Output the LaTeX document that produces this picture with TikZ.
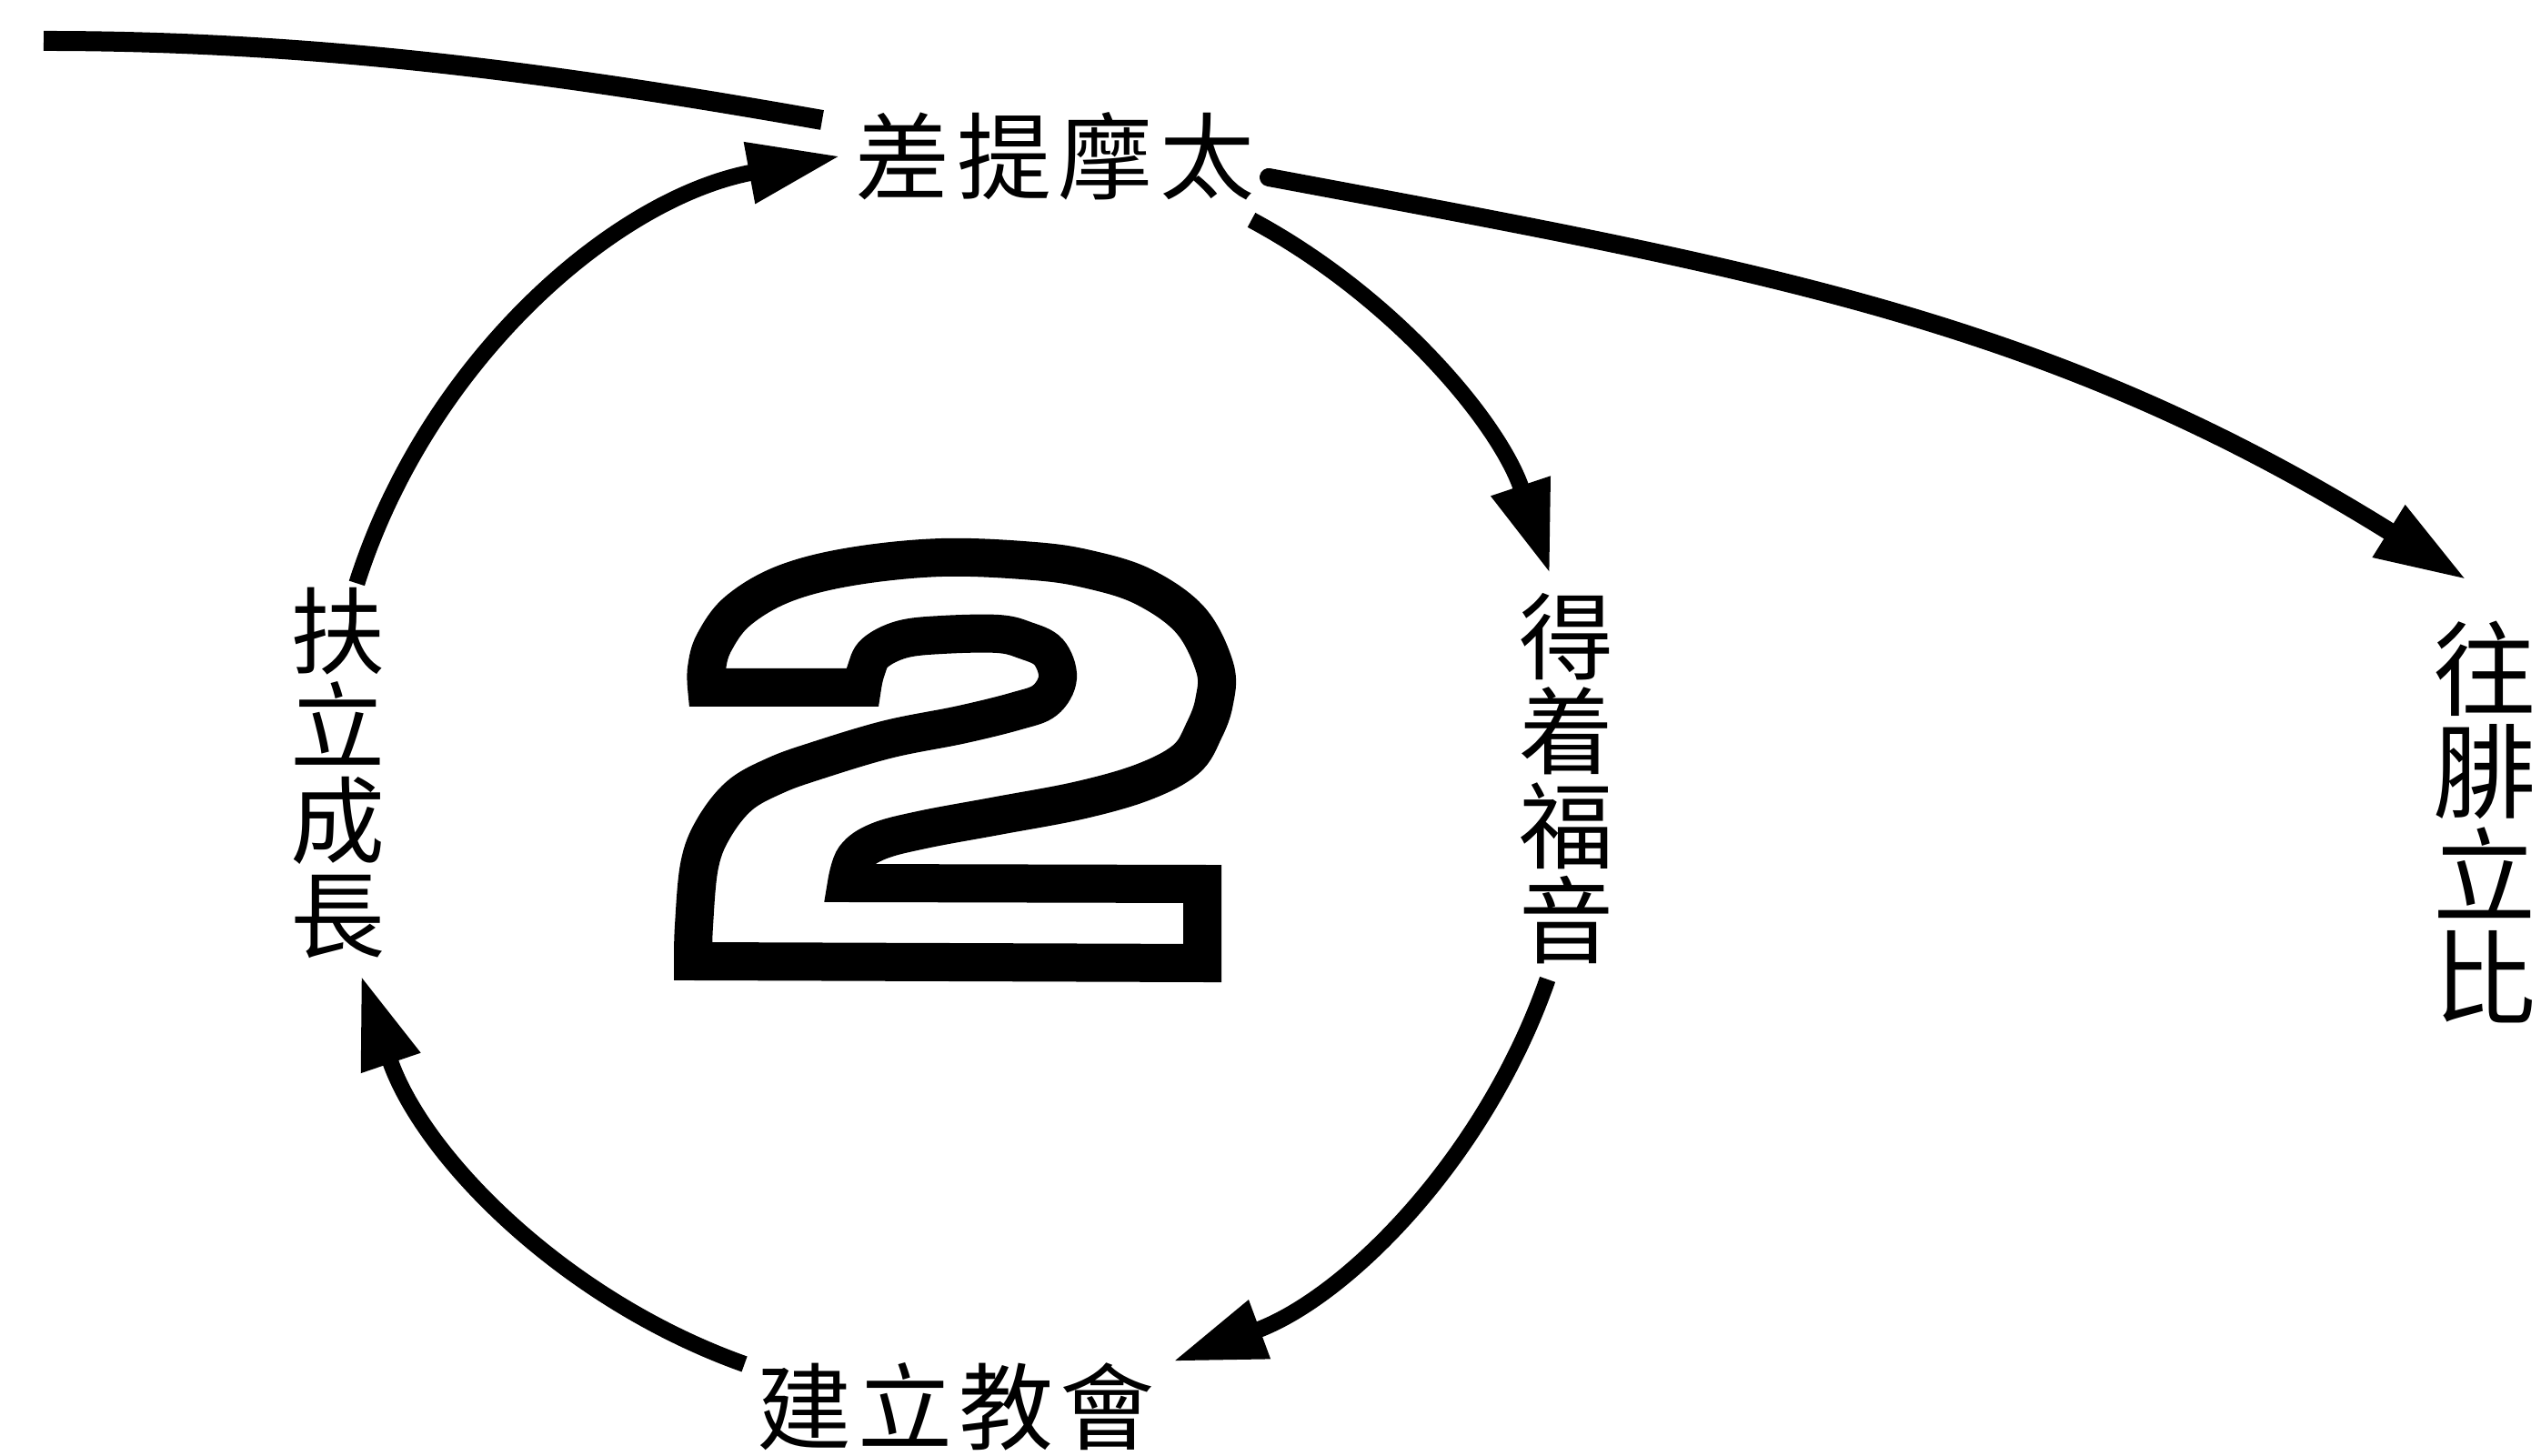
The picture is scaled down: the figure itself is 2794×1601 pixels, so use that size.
\documentclass[tikz,border=0pt]{standalone}
\usepackage{fontspec}
\newfontfamily\cjk{Noto Sans CJK TC}
\usetikzlibrary{arrows.meta}
\begin{document}
\begin{tikzpicture}[x=0.05mm,y=-0.05mm,
  lbl/.style={inner sep=0pt, font=\cjk\fontsize{14.8pt}{14.8pt}\selectfont},
  vlbl/.style={lbl, align=center},
  biglbl/.style={inner sep=0pt, align=center, font=\cjk\fontsize{16.1pt}{16.1pt}\selectfont},
  cyc/.style={line width=0.9mm, -{Triangle[length=5.1mm,width=3.2mm]}},
  journey/.style={line width=1mm, line cap=round, -{Triangle[length=5.1mm,width=3.1mm]}},
  road/.style={line width=1.1mm},
  two/.style={line width=2.1mm, line join=miter, fill=white}
]
\fill[white] (0,0) rectangle (2794,1601);
\useasboundingbox (0,0) rectangle (2794,1601);

% labels
\node[lbl] (tim) at (1160,172) {差\kern1.1pt 提\kern1.1pt 摩\kern1.1pt 太};
\node[vlbl] (grow) at (372,850) {扶\\立\\成\\長};
\node[vlbl] (gospel) at (1722,856) {得\\着\\福\\音};
\node[lbl] (church) at (1051,1547) {建\kern1.0pt 立\kern1.0pt 教\kern1.0pt 會};
\node[biglbl] (phil) at (2732,904) {往\\腓\\立\\比};

% cycle
\coordinate (c0) at (1050,850);
\coordinate (a1) at ([shift={(197.6:690)}]c0);
\coordinate (b1) at ([shift={(298.2:690)}]c0);
\coordinate (d1) at ([shift={(19.2:690)}]c0);
\coordinate (e1) at ([shift={(109.6:690)}]c0);
\draw[cyc] (a1) arc[start angle=197.6, end angle=259.5, radius=690];
\draw[cyc] (b1) arc[start angle=298.2, end angle=341.5, radius=690];
\draw[cyc] (d1) arc[start angle=19.2, end angle=69.7, radius=690];
\draw[cyc] (e1) arc[start angle=109.6, end angle=161.2, radius=690];

% journey lines
\coordinate (r0) at (48,45);
\coordinate (r1) at (904,132);
\draw[road] (r0) .. controls (348,45) and (609,80) .. (r1);
\coordinate (j0) at (1395,195);
\coordinate (j1) at (2713,638);
\draw[journey] (j0) .. controls (1930,295) and (2252,350) .. (j1);

% big outlined 2
\draw[two] plot[smooth,tension=0.6] coordinates {(777,756) (777,735) (785,707) (811,672) (862,642) (936,623) (1036,613) (1137,617) (1197,626) (1257,645) (1309,682) (1336,735) (1335,772) (1324,803) (1304,835) (1257,860) (1187,880) (1097,897) (1016,912) (966,925) (940,943) (931,971)}
  -- (1322,972) -- (1322,1059) -- (762,1057)
  -- plot[smooth,tension=0.6] coordinates {(762,1057) (763,1018) (769,952) (784,912) (813,875) (852,853) (896,837) (976,813) (1056,797) (1117,782) (1149,770) (1163,745) (1153,717) (1127,704) (1097,697) (1036,698) (992,703) (962,718) (952,738) (948,756)}
  -- cycle;
\end{tikzpicture}
\end{document}
